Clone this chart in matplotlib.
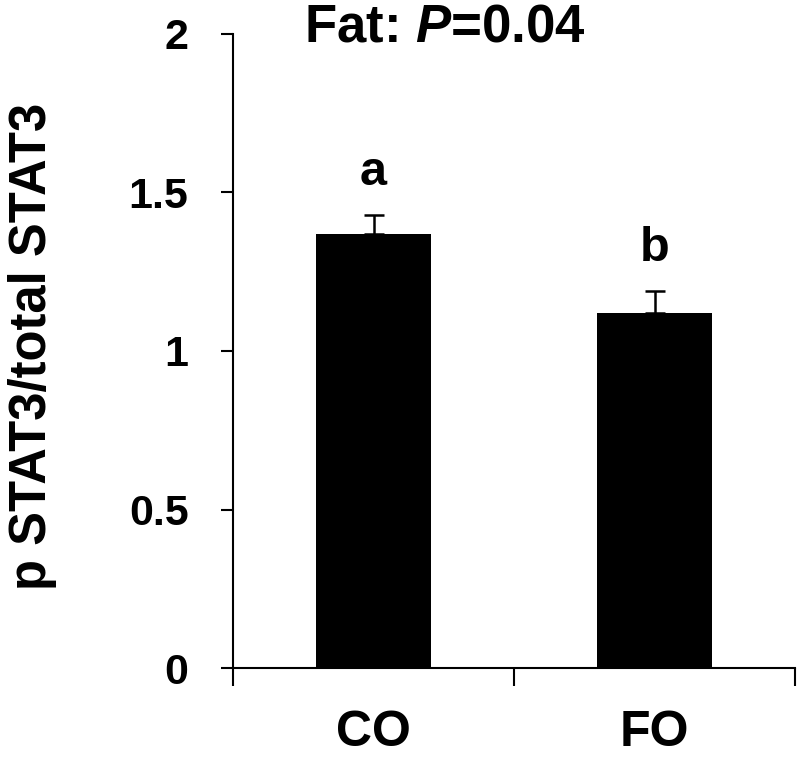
import matplotlib.pyplot as plt

plt.rcParams['font.family'] = 'Liberation Sans'
plt.rcParams['font.weight'] = 'bold'
plt.rcParams['mathtext.fontset'] = 'custom'
plt.rcParams['mathtext.it'] = 'Liberation Sans:italic:bold'
plt.rcParams['mathtext.rm'] = 'Liberation Sans:bold'

# data
groups = ['CO', 'FO']
means = [1.37, 1.12]
errs = [0.06, 0.07]
letters = ['a', 'b']
yticks = [0, 0.5, 1, 1.5, 2]
yticklabels = ['0', '0.5', '1', '1.5', '2']

fig = plt.figure(figsize=(7.97, 7.6), dpi=100)
ax = fig.add_axes([233 / 797, 1 - 668 / 760, (795 - 233) / 797, (668 - 34) / 760])

x = list(range(len(groups)))
ax.bar(x, means, width=0.41, color='black', zorder=2)
ax.errorbar(x, means, yerr=[[0] * len(errs), errs], fmt='none', ecolor='black',
            elinewidth=1.8, capsize=7, capthick=1.8, zorder=3)

for xi, m, e, lab in zip(x, means, errs, letters):
    ax.text(xi, m + e + 0.095, lab, ha='center', va='baseline', fontsize=35, fontweight='bold')

ax.set_xlim(-0.5, 1.5)
ax.set_ylim(0, 2)
ax.set_yticks(yticks)
ax.set_yticklabels(yticklabels, fontsize=31, fontweight='bold')
ax.tick_params(axis='y', direction='out', length=9, width=1.5, pad=23)

ax.set_xticks([-0.5, 0.5, 1.5])
ax.set_xticklabels([])
ax.tick_params(axis='x', which='major', direction='out', length=13, width=1.5)
ax.set_xticks(x, minor=True)
ax.set_xticklabels(groups, minor=True, fontsize=36, fontweight='bold')
ax.tick_params(axis='x', which='minor', length=0, pad=30)

for s in ['top', 'right']:
    ax.spines[s].set_visible(False)
for s in ['left', 'bottom']:
    ax.spines[s].set_linewidth(1.5)

fig.text(33 / 797, 1 - 346 / 760, 'p STAT3/total STAT3', rotation=90,
         ha='center', va='center', fontsize=36.5, fontweight='bold')
fig.text(445 / 797, 1 - 42 / 760, r'Fat: $P$=0.04', ha='center', va='baseline',
         fontsize=38, fontweight='bold')

fig.savefig('out.png', dpi=100)
